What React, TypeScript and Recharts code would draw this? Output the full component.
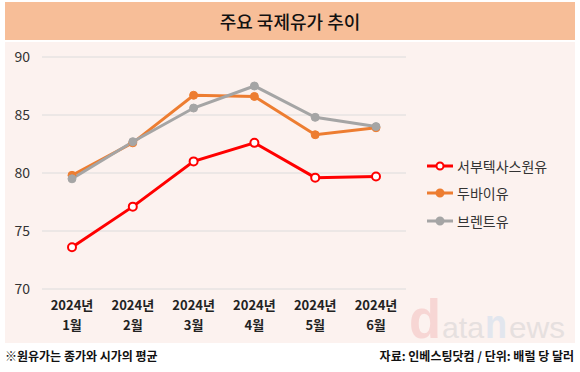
import React from "react";
import { LineChart, Line, XAxis, YAxis, CartesianGrid } from "recharts";

const months = ["2024년 1월", "2024년 2월", "2024년 3월", "2024년 4월", "2024년 5월", "2024년 6월"];
const wti = [73.6, 77.1, 81.0, 82.6, 79.6, 79.7];
const dubai = [79.8, 82.6, 86.7, 86.6, 83.3, 83.9];
const brent = [79.5, 82.7, 85.6, 87.5, 84.8, 84.0];
const yTicks = [70, 75, 80, 85, 90];

const FONT = "'Noto Sans CJK KR', 'Noto Sans', sans-serif";
const WM_FONT = "'Liberation Sans', Arial, sans-serif";

const data = months.map((m, i) => ({
  month: m,
  wti: wti[i],
  dubai: dubai[i],
  brent: brent[i],
}));

const legendItems = [
  { name: "서부텍사스원유", color: "#FF0000", hollow: true },
  { name: "두바이유", color: "#ED7D31", hollow: false },
  { name: "브렌트유", color: "#A5A5A5", hollow: false },
];

const MonthTick = (props: any) => {
  const { x, y, payload } = props;
  const [year, mon] = String(payload.value).split(" ");
  return (
    <g transform={`translate(${x},${y})`}>
      <text textAnchor="middle" fill="#222" fontSize={13} fontWeight={700} fontFamily={FONT}>
        <tspan x={0} dy={13}>{year}</tspan>
        <tspan x={0} dy={20}>{mon}</tspan>
      </text>
    </g>
  );
};

const LegendBox = () => (
  <div style={{ fontFamily: FONT }}>
    {legendItems.map((it) => (
      <div key={it.name} style={{ display: "flex", alignItems: "center", height: 27.5 }}>
        <svg width={28} height={12}>
          <line x1={1} y1={6} x2={27} y2={6} stroke={it.color} strokeWidth={3} />
          <circle
            cx={14}
            cy={6}
            r={3.5}
            fill={it.hollow ? "#fff" : it.color}
            stroke={it.color}
            strokeWidth={2}
          />
        </svg>
        <span style={{ marginLeft: 3, fontSize: 14, color: "#333" }}>{it.name}</span>
      </div>
    ))}
  </div>
);

// faint "datanews" watermark behind the plot
const Watermark = () => (
  <svg width={570} height={301} style={{ position: "absolute", left: 0, top: 0, overflow: "visible" }}>
    <text x={404} y={296} fontSize={56} fontWeight={700} fontFamily={WM_FONT} fill="#F7D6D4" textLength={32} lengthAdjust="spacingAndGlyphs">
      d
    </text>
    <text x={437} y={296} fontSize={30} fontFamily={WM_FONT} fill="#E6E0DF" textLength={42} lengthAdjust="spacingAndGlyphs">
      ata
    </text>
    <text x={480} y={296} fontSize={40} fontWeight={700} fontFamily={WM_FONT} fill="#E2E6EE" textLength={22} lengthAdjust="spacingAndGlyphs">
      n
    </text>
    <text x={504} y={296} fontSize={30} fontFamily={WM_FONT} fill="#E6E0DF" textLength={56} lengthAdjust="spacingAndGlyphs">
      ews
    </text>
  </svg>
);

export default function App() {
  return (
    <div style={{ position: "absolute", left: 0, top: 0, width: 580, height: 372, background: "#fff", fontFamily: FONT }}>
      <div
        style={{
          position: "absolute",
          left: 5,
          top: 2,
          width: 570,
          height: 38,
          background: "#F7BE98",
          display: "flex",
          alignItems: "center",
          justifyContent: "center",
          fontSize: 18,
          fontWeight: 500,
          color: "#111",
        }}
      >
        주요 국제유가 추이
      </div>
      <div style={{ position: "absolute", left: 5, top: 42, width: 570, height: 301, background: "#FCF2EF" }}>
        <Watermark />
        <LineChart
          width={570}
          height={300}
          data={data}
          margin={{ top: 15, right: 169, bottom: 13, left: 0 }}
          style={{ position: "absolute", left: 0, top: 0 }}
        >
          <CartesianGrid vertical={false} stroke="#DCDCDC" strokeWidth={1} />
          <XAxis
            dataKey="month"
            axisLine={false}
            tickLine={false}
            height={40}
            interval={0}
            padding={{ left: 30, right: 30 }}
            tick={<MonthTick />}
          />
          <YAxis
            domain={[70, 90]}
            ticks={yTicks}
            width={37}
            axisLine={false}
            tickLine={false}
            tickMargin={6}
            tick={{ fill: "#333", fontSize: 14, fontFamily: FONT }}
          />
          <Line
            type="linear"
            dataKey="wti"
            name="서부텍사스원유"
            stroke="#FF0000"
            strokeWidth={3}
            dot={{ r: 4, fill: "#fff", stroke: "#FF0000", strokeWidth: 2 }}
            isAnimationActive={false}
          />
          <Line
            type="linear"
            dataKey="dubai"
            name="두바이유"
            stroke="#ED7D31"
            strokeWidth={3}
            dot={{ r: 4, fill: "#ED7D31", stroke: "#ED7D31", strokeWidth: 1 }}
            isAnimationActive={false}
          />
          <Line
            type="linear"
            dataKey="brent"
            name="브렌트유"
            stroke="#A5A5A5"
            strokeWidth={3}
            dot={{ r: 4, fill: "#A5A5A5", stroke: "#A5A5A5", strokeWidth: 1 }}
            isAnimationActive={false}
          />
        </LineChart>
        <div style={{ position: "absolute", left: 421, top: 110 }}>
          <LegendBox />
        </div>
      </div>
      <div style={{ position: "absolute", left: 5, top: 347, fontSize: 12, fontWeight: 700, color: "#111" }}>
        ※원유가는 종가와 시가의 평균
      </div>
      <div style={{ position: "absolute", right: 6, top: 347, fontSize: 12, fontWeight: 700, color: "#111" }}>
        자료: 인베스팅닷컴 / 단위: 배럴 당 달러
      </div>
    </div>
  );
}
